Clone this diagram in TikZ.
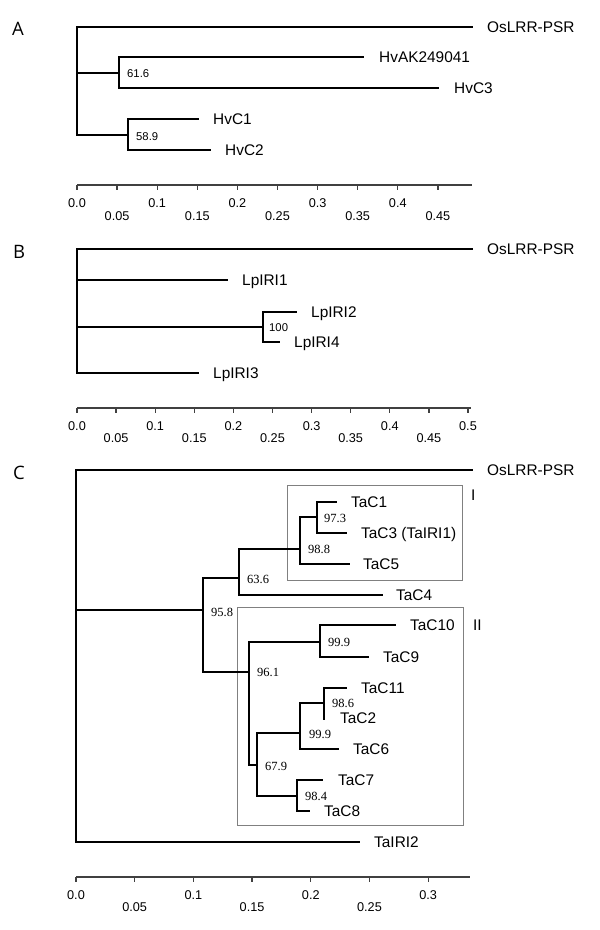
\documentclass[tikz,border=0pt]{standalone}
\usepackage{fontspec}
\setmainfont{Liberation Sans}
\newfontfamily\bsserif{Liberation Serif}
\newfontfamily\panelfont{Open Sans}
\begin{document}
\begin{tikzpicture}[x=1pt,y=-1pt,
  br/.style={line width=2pt, line cap=rect},
  axisline/.style={line width=1.8pt, draw=black!75},
  tickmark/.style={line width=1.3pt, draw=black!75},
  boxst/.style={line width=1pt, draw=black!50},
  leaf/.style={anchor=base west, inner sep=0pt, font=\fontsize{15.4}{17}\selectfont, yshift=-5.5pt},
  bsA/.style={anchor=base west, inner sep=0pt, font=\fontsize{11.3}{13}\selectfont, yshift=-4pt},
  bsC/.style={anchor=base west, inner sep=0pt, font=\bsserif\fontsize{12.5}{14}\selectfont, yshift=-4.2pt},
  ticklab/.style={anchor=base, inner sep=0pt, font=\fontsize{12.7}{14}\selectfont, yshift=-4.5pt},
  panel/.style={anchor=base west, inner sep=0pt, font=\panelfont\fontsize{18.5}{20}\selectfont, yshift=-6.5pt}
]
\useasboundingbox (0,0) rectangle (600,930);

% ================= Panel A =================
\node[panel] (pA) at (12,29) {A};
\coordinate (Ar) at (77,73);
\coordinate (A616) at (119,73);
\coordinate (A589) at (128,135);
\coordinate (AtOs) at (472,27);
\coordinate (AtHvAK) at (363,57);
\coordinate (AtHvC3) at (438,88);
\coordinate (AtHvC1) at (198,119);
\coordinate (AtHvC2) at (210,150);
\draw[br] (Ar) |- (AtOs);
\draw[br] (Ar) -- (A616);
\draw[br] (Ar) |- (A589);
\draw[br] (A616) |- (AtHvAK);
\draw[br] (A616) |- (AtHvC3);
\draw[br] (A589) |- (AtHvC1);
\draw[br] (A589) |- (AtHvC2);
\node[leaf] (lAOs) at (487,27) {OsLRR-PSR};
\node[leaf] (lHvAK) at (379,57) {HvAK249041};
\node[leaf] (lHvC3) at (454,88) {HvC3};
\node[leaf] (lHvC1) at (213,119) {HvC1};
\node[leaf] (lHvC2) at (225,150) {HvC2};
\node[bsA] (bA1) at (127,73) {61.6};
\node[bsA] (bA2) at (136,136) {58.9};
% axis A
\coordinate (axA0) at (77,185);
\coordinate (axA1) at (472,185);
\draw[axisline] (axA0) -- (axA1);
\foreach \i in {0,...,9} \draw[tickmark] ({77+\i*40.1},185) -- ++(0,4.5);
\foreach \i/\t in {0/0.0,2/0.1,4/0.2,6/0.3,8/0.4}
  \node[ticklab] (tA\i) at ({77+\i*40.1},203) {\t};
\foreach \i/\t in {1/0.05,3/0.15,5/0.25,7/0.35,9/0.45}
  \node[ticklab] (tA\i) at ({77+\i*40.1},216) {\t};

% ================= Panel B =================
\node[panel] (pB) at (13,252) {B};
\coordinate (Br) at (77,327);
\coordinate (B100) at (263,327);
\coordinate (BtOs) at (472,249);
\coordinate (Bt1) at (227,280);
\coordinate (Bt2) at (296,312);
\coordinate (Bt4) at (279,342);
\coordinate (Bt3) at (198,373);
\draw[br] (Br) |- (BtOs);
\draw[br] (Br) |- (Bt1);
\draw[br] (Br) -- (B100);
\draw[br] (Br) |- (Bt3);
\draw[br] (B100) |- (Bt2);
\draw[br] (B100) |- (Bt4);
\node[leaf] (lBOs) at (487,249) {OsLRR-PSR};
\node[leaf] (lLp1) at (242,280) {LpIRI1};
\node[leaf] (lLp2) at (311,312) {LpIRI2};
\node[leaf] (lLp4) at (294,342) {LpIRI4};
\node[leaf] (lLp3) at (213,373) {LpIRI3};
\node[bsA] (bB1) at (269,327) {100};
% axis B
\coordinate (axB0) at (77,408);
\coordinate (axB1) at (471,408);
\draw[axisline] (axB0) -- (axB1);
\foreach \i in {0,...,10} \draw[tickmark] ({77+\i*39.1},408) -- ++(0,4.5);
\foreach \i/\t in {0/0.0,2/0.1,4/0.2,6/0.3,8/0.4,10/0.5}
  \node[ticklab] (tB\i) at ({77+\i*39.1},426) {\t};
\foreach \i/\t in {1/0.05,3/0.15,5/0.25,7/0.35,9/0.45}
  \node[ticklab] (tB\i) at ({77+\i*39.1},438) {\t};

% ================= Panel C =================
\node[panel] (pC) at (13,473) {C};
\coordinate (Cr) at (76,610);
\coordinate (C958) at (203,610);
\coordinate (C636) at (239,578);
\coordinate (C988) at (300,549);
\coordinate (C973) at (317,517);
\coordinate (C961) at (249,672);
\coordinate (C999a) at (320,642);
\coordinate (C679) at (257,765);
\coordinate (C999b) at (300,733);
\coordinate (C986) at (324,703);
\coordinate (C984) at (297,796);
\coordinate (CtOs) at (472,470);
\coordinate (CtIRI2) at (359,842);
\coordinate (CtC4) at (382,595);
\coordinate (CtC5) at (349,564);
\coordinate (CtC1) at (336,502);
\coordinate (CtC3) at (346,533);
\coordinate (CtC10) at (395,625);
\coordinate (CtC9) at (368,657);
\coordinate (CtC6) at (338,749);
\coordinate (CtC11) at (346,688);
\coordinate (CtC2) at (324,719);
\coordinate (CtC7) at (322,780);
\coordinate (CtC8) at (309,811);
% boxes
\draw[boxst] (287,485) rectangle (462,580);
\draw[boxst] (237,607) rectangle (463,825);
% branches
\draw[br] (Cr) |- (CtOs);
\draw[br] (Cr) -- (C958);
\draw[br] (Cr) |- (CtIRI2);
\draw[br] (C958) |- (C636);
\draw[br] (C958) |- (C961);
\draw[br] (C636) |- (C988);
\draw[br] (C636) |- (CtC4);
\draw[br] (C988) |- (C973);
\draw[br] (C988) |- (CtC5);
\draw[br] (C973) |- (CtC1);
\draw[br] (C973) |- (CtC3);
\draw[br] (C961) |- (C999a);
\draw[br] (C961) |- (C679);
\draw[br] (C999a) |- (CtC10);
\draw[br] (C999a) |- (CtC9);
\draw[br] (C679) |- (C999b);
\draw[br] (C679) |- (C984);
\draw[br] (C999b) |- (C986);
\draw[br] (C999b) |- (CtC6);
\draw[br] (C986) |- (CtC11);
\draw[br] (C986) -- (CtC2);
\draw[br] (C984) |- (CtC7);
\draw[br] (C984) |- (CtC8);
% leaf labels
\node[leaf] (lCOs) at (487,470) {OsLRR-PSR};
\node[leaf] (lIRI2) at (374,842) {TaIRI2};
\node[leaf] (lC4) at (396,595) {TaC4};
\node[leaf] (lC5) at (363,564) {TaC5};
\node[leaf] (lC1) at (351,502) {TaC1};
\node[leaf] (lC3) at (361,533) {TaC3 (TaIRI1)};
\node[leaf] (lC10) at (410,625) {TaC10};
\node[leaf] (lC9) at (383,657) {TaC9};
\node[leaf] (lC11) at (361,688) {TaC11};
\node[leaf] (lC2) at (340,718) {TaC2};
\node[leaf] (lC6) at (353,749) {TaC6};
\node[leaf] (lC7) at (338,780) {TaC7};
\node[leaf] (lC8) at (324,811) {TaC8};
\node[leaf] (lboxI) at (471,495) {I};
\node[leaf] (lboxII) at (473,625) {II};
% bootstrap values
\node[bsC] (b958) at (211,612) {95.8};
\node[bsC] (b636) at (247,579) {63.6};
\node[bsC] (b988) at (308,549) {98.8};
\node[bsC] (b973) at (324,518) {97.3};
\node[bsC] (b961) at (257,672) {96.1};
\node[bsC] (b999a) at (328,642) {99.9};
\node[bsC] (b679) at (265,766) {67.9};
\node[bsC] (b999b) at (309,734) {99.9};
\node[bsC] (b986) at (332,703) {98.6};
\node[bsC] (b984) at (305,796) {98.4};
% axis C
\coordinate (axC0) at (76,877);
\coordinate (axC1) at (470,877);
\draw[axisline] (axC0) -- (axC1);
\foreach \i in {0,...,6} \draw[tickmark] ({76+\i*58.7},877) -- ++(0,4.5);
\foreach \i/\t in {0/0.0,2/0.1,4/0.2,6/0.3}
  \node[ticklab] (tC\i) at ({76+\i*58.7},895) {\t};
\foreach \i/\t in {1/0.05,3/0.15,5/0.25}
  \node[ticklab] (tC\i) at ({76+\i*58.7},907) {\t};
\end{tikzpicture}
\end{document}
